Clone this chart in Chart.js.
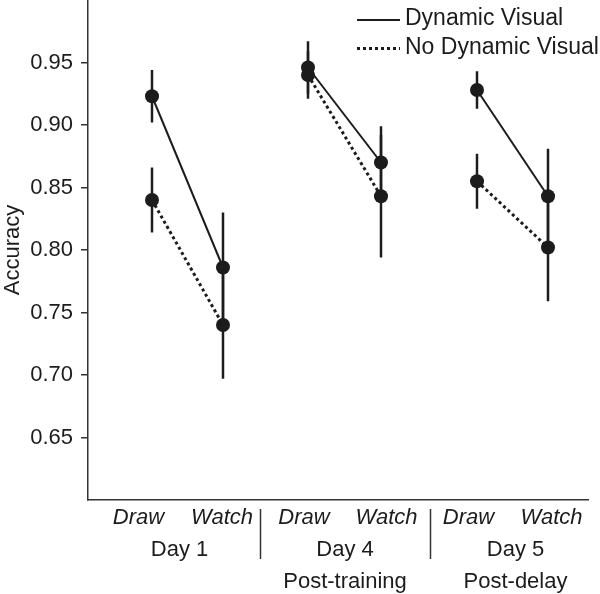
<!DOCTYPE html>
<html lang="en">
<head>
<meta charset="UTF-8">
<title>Accuracy by day</title>
<style>
    body { margin: 0; background: #fff; }
    #wrap { width: 600px; height: 594px; }
</style>
<script src="https://cdn.jsdelivr.net/npm/chart.js"></script>
</head>
<body>
<div id="wrap"><canvas id="chart" width="600" height="594"></canvas></div>
<script>
// x positions on a 0-10 axis
const pointX = [1.28, 2.70, 4.40, 5.86, 7.78, 9.20];
const conditionLabels = ['Draw', 'Watch', 'Draw', 'Watch', 'Draw', 'Watch'];
const conditionX = [1.01, 2.68, 4.32, 5.97, 7.61, 9.27];
const dayLabels = ['Day 1', 'Day 4', 'Day 5'];
const phaseLabels = ['', 'Post-training', 'Post-delay'];
const dayX = [1.83, 5.14, 8.55];
const dividerX = [3.44, 6.84];

const dynamic = [0.923, 0.786, 0.946, 0.870, 0.928, 0.843];
const dynamicErr = [0.021, 0.044, 0.021, 0.029, 0.015, 0.038];
const noDynamic = [0.840, 0.740, 0.940, 0.843, 0.855, 0.802];
const noDynamicErr = [0.026, 0.043, 0.019, 0.049, 0.022, 0.043];

const yTicks = [0.65, 0.70, 0.75, 0.80, 0.85, 0.90, 0.95];

const ink = '#1c1c1c';
const axisInk = '#333';
const fontFamily = '"Liberation Sans", Arial, Helvetica, sans-serif';

function errorBars(values, errs) {
    return values.map((v, i) => ({
        data: [{ x: pointX[i], y: v - errs[i] }, { x: pointX[i], y: v + errs[i] }],
        showLine: true,
        borderColor: ink,
        borderWidth: 2.5,
        pointRadius: 0
    }));
}

// legend in the top right corner, inside the plot
const cornerLegend = {
    id: 'cornerLegend',
    afterDraw(chart) {
        const ctx = chart.ctx;
        ctx.save();
        ctx.font = '23px ' + fontFamily;
        ctx.textBaseline = 'middle';
        ctx.fillStyle = ink;
        [0, 1].forEach(i => {
            const ds = chart.data.datasets[i];
            const y = 19 + i * 28.5;
            ctx.beginPath();
            ctx.setLineDash(ds.borderDash || []);
            ctx.lineWidth = ds.borderWidth;
            ctx.strokeStyle = ds.borderColor;
            ctx.moveTo(357, y + 1);
            ctx.lineTo(400, y + 1);
            ctx.stroke();
            ctx.setLineDash([]);
            ctx.fillText(ds.label, 405, y);
        });
        ctx.restore();
    }
};

// vertical separators between the days, under the x axis
const dayDividers = {
    id: 'dayDividers',
    afterDraw(chart) {
        const ctx = chart.ctx;
        const xs = chart.scales.x;
        ctx.save();
        ctx.strokeStyle = axisInk;
        ctx.lineWidth = 1.5;
        dividerX.forEach(v => {
            const px = Math.round(xs.getPixelForValue(v)) + 0.5;
            ctx.beginPath();
            ctx.moveTo(px, xs.top + 9);
            ctx.lineTo(px, xs.top + 59);
            ctx.stroke();
        });
        ctx.restore();
    }
};

new Chart(document.getElementById('chart'), {
    type: 'scatter',
    data: {
        datasets: [
            {
                label: 'Dynamic Visual',
                data: dynamic.map((v, i) => ({ x: pointX[i], y: v })),
                showLine: true,
                segment: { borderColor: c => (c.p0DataIndex % 2 === 0 ? ink : 'transparent') },
                borderColor: ink,
                borderWidth: 2,
                pointRadius: 7,
                pointBackgroundColor: ink,
                pointBorderWidth: 0
            },
            {
                label: 'No Dynamic Visual',
                data: noDynamic.map((v, i) => ({ x: pointX[i], y: v })),
                showLine: true,
                segment: { borderColor: c => (c.p0DataIndex % 2 === 0 ? ink : 'transparent') },
                borderColor: ink,
                borderWidth: 3,
                borderDash: [3, 3],
                borderCapStyle: 'butt',
                pointRadius: 7,
                pointBackgroundColor: ink,
                pointBorderWidth: 0
            },
            ...errorBars(dynamic, dynamicErr),
            ...errorBars(noDynamic, noDynamicErr)
        ]
    },
    options: {
        responsive: false,
        animation: false,
        layout: { autoPadding: false, padding: { top: 0, right: 12, left: 0, bottom: 0 } },
        plugins: {
            legend: { display: false },
            tooltip: { enabled: false }
        },
        scales: {
            x: {
                type: 'linear',
                min: 0,
                max: 10,
                afterBuildTicks: scale => {
                    scale.ticks = conditionX.concat(dayX).map(v => ({ value: v }));
                },
                afterFit: scale => {
                    scale.height = 94;
                    scale.paddingLeft = 0;
                    scale.paddingRight = 0;
                },
                grid: { display: false, drawTicks: false },
                border: { display: true, color: axisInk, width: 1.5 },
                ticks: {
                    autoSkip: false,
                    maxRotation: 0,
                    padding: 2,
                    color: ink,
                    font: c => ({
                        family: fontFamily,
                        size: 22,
                        style: c.index < conditionLabels.length ? 'italic' : 'normal',
                        lineHeight: 32 / 22
                    }),
                    callback: (value, index) => {
                        if (index < conditionLabels.length) return conditionLabels[index];
                        const d = index - conditionLabels.length;
                        return ['', dayLabels[d], phaseLabels[d]];
                    }
                }
            },
            y: {
                min: 0.6,
                max: 1.0,
                afterBuildTicks: scale => {
                    scale.ticks = yTicks.map(v => ({ value: v }));
                },
                afterFit: scale => {
                    scale.width = 88;
                    scale.paddingTop = 0;
                    scale.paddingBottom = 0;
                },
                grid: { drawOnChartArea: false, drawTicks: true, tickLength: 7, color: axisInk, lineWidth: 1.5 },
                border: { display: true, color: axisInk, width: 1.5 },
                ticks: {
                    padding: 8,
                    color: ink,
                    font: { family: fontFamily, size: 22 },
                    callback: v => v.toFixed(2)
                },
                title: {
                    display: true,
                    text: 'Accuracy',
                    color: ink,
                    padding: { top: 0, bottom: 0 },
                    font: { family: fontFamily, size: 22 }
                }
            }
        }
    },
    plugins: [cornerLegend, dayDividers]
});
</script>
</body>
</html>
